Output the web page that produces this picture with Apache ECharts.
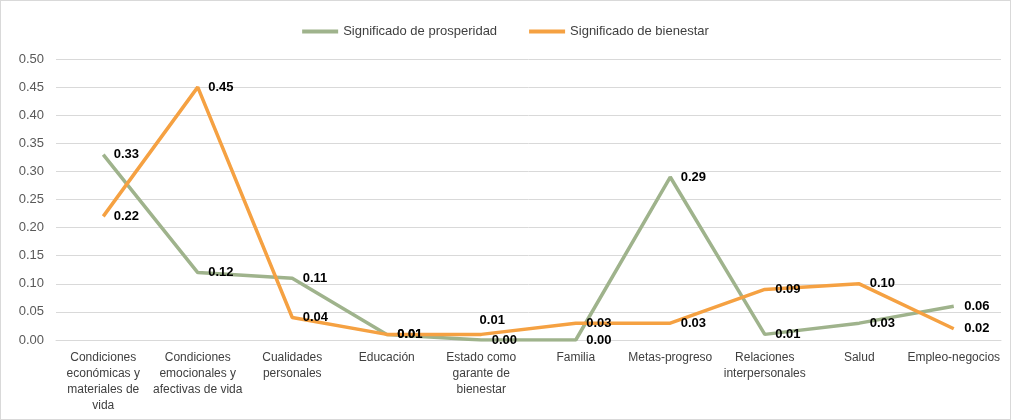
<!DOCTYPE html>
<html>
<head>
<meta charset="utf-8">
<script src="https://cdn.jsdelivr.net/npm/echarts@6/dist/echarts.min.js"></script>
<style>
  html, body { margin: 0; padding: 0; background: #fff; }
  #chart { width: 1009px; height: 418px; border: 1px solid #d9d9d9; }
</style>
</head>
<body>
<div id="chart"></div>
<script>
// categorías del eje X
const categories = [
  'Condiciones\neconómicas y\nmateriales de\nvida',
  'Condiciones\nemocionales y\nafectivas de vida',
  'Cualidades\npersonales',
  'Educación',
  'Estado como\ngarante de\nbienestar',
  'Familia',
  'Metas-progreso',
  'Relaciones\ninterpersonales',
  'Salud',
  'Empleo-negocios'
]
const prosperidad = [0.33, 0.12, 0.11, 0.01, 0.00, 0.00, 0.29, 0.01, 0.03, 0.06]
const bienestar = [0.22, 0.45, 0.04, 0.01, 0.01, 0.03, 0.03, 0.09, 0.10, 0.02]

const GREEN = '#9fb38c'
const ORANGE = '#f5a142'

const chart = echarts.init(document.getElementById('chart'))

const labelStyle = {
  show: true,
  position: 'right',
  distance: 10,
  color: '#000',
  fontWeight: 'bold',
  fontSize: 13,
  fontFamily: 'Liberation Sans',
  formatter: p => p.value.toFixed(2)
}

// la etiqueta de "Estado como garante" (bienestar) va encima de la línea
const bienestarData = bienestar.map((v, i) =>
  i === 4 ? { value: v, label: { position: 'top', distance: 7, offset: [11, 0] } } : v
)

chart.setOption({
  animation: false,
  textStyle: { fontFamily: 'Liberation Sans' },
  legend: {
    top: 19,
    left: 'center',
    itemGap: 32,
    itemWidth: 36,
    itemHeight: 4,
    icon: 'rect',
    textStyle: { color: '#404040', fontSize: 13 },
    data: [
      { name: 'Significado de prosperidad', itemStyle: { color: GREEN } },
      { name: 'Significado de bienestar', itemStyle: { color: ORANGE } }
    ]
  },
  grid: { left: 55, right: 9, top: 58, bottom: 79 },
  xAxis: {
    type: 'category',
    data: categories,
    boundaryGap: true,
    axisLine: { lineStyle: { color: '#d9d9d9' } },
    axisTick: { show: false },
    axisLabel: { color: '#404040', fontSize: 12, lineHeight: 16, interval: 0, margin: 10 }
  },
  yAxis: {
    type: 'value',
    min: 0,
    max: 0.5,
    interval: 0.05,
    axisLine: { show: false },
    axisTick: { show: false },
    axisLabel: { color: '#595959', fontSize: 13, margin: 12, formatter: v => v.toFixed(2) },
    splitLine: { lineStyle: { color: '#d9d9d9' } }
  },
  series: [
    {
      name: 'Significado de prosperidad',
      type: 'line',
      data: prosperidad,
      symbol: 'circle',
      symbolSize: 1,
      itemStyle: { color: 'rgba(0,0,0,0)' },
      lineStyle: { width: 3.5, color: GREEN },
      label: labelStyle
    },
    {
      name: 'Significado de bienestar',
      type: 'line',
      data: bienestarData,
      symbol: 'circle',
      symbolSize: 1,
      itemStyle: { color: 'rgba(0,0,0,0)' },
      lineStyle: { width: 3.5, color: ORANGE },
      label: labelStyle
    }
  ]
})
</script>
</body>
</html>
